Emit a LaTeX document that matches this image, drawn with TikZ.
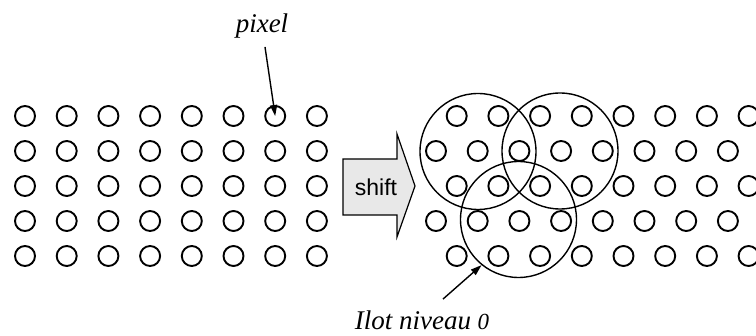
\documentclass[tikz,border=0pt]{standalone}
\usepackage{fontspec}
\setmainfont{Liberation Serif}
\setsansfont{Liberation Sans}
\usetikzlibrary{arrows.meta}
\definecolor{arrowgray}{RGB}{232,232,232}
\begin{document}
\begin{tikzpicture}[x=1pt,y=-1pt,
  px/.style={circle,draw,line width=1.9pt,minimum size=20pt,inner sep=0pt},
  ilot/.style={circle,draw,line width=1.4pt,minimum size=116pt,inner sep=0pt},
  lab/.style={font=\fontsize{27}{30}\selectfont\itshape,inner sep=2pt},
  arr/.style={-{Triangle[length=11pt,width=7pt]},line width=1.4pt},
  shiftbox/.style={draw,line width=1.2pt,fill=arrowgray,line join=miter}]
\clip (0,0) rectangle (756,336);
\fill[white] (0,0) rectangle (756,336);
% left grid
\foreach \r in {1,...,5}
  \foreach \c in {1,...,8}
    \node[px] (L\r-\c) at ({25+41.7*(\c-1)},{116+35*(\r-1)}) {};
% right grid
\foreach \r in {1,3,5}
  \foreach \c in {1,...,8}
    \node[px] (R\r-\c) at ({456.7+41.7*(\c-1)},{116+35*(\r-1)}) {};
\foreach \r in {2,4}
  \foreach \c in {1,...,8}
    \node[px] (R\r-\c) at ({436+41.7*(\c-1)},{116+35*(\r-1)}) {};
% big circles
\node[ilot] (B1) at (478,151.5) {};
\node[ilot] (B2) at (560,151) {};
\node[ilot] (B3) at (518.5,219.5) {};
% shift arrow
\draw[shiftbox] (343,159) -- (397,159) -- (397,134) -- (415,186) -- (397,237) -- (397,215) -- (343,215) -- cycle;
\node[font=\sffamily\fontsize{23}{26}\selectfont,anchor=base] (shift) at (376,196) {shift};
% labels
\node[lab,anchor=base] (pixel) at (262,33) {pixel};
\node[lab,anchor=base] (ilotlab) at (422,330) {Ilot niveau {\fontsize{23}{24}\selectfont 0}};
\draw[arr] ([xshift=3pt,yshift=-6pt]pixel.south) -- (L1-7.center);
\draw[arr] ([xshift=21pt,yshift=10pt]ilotlab.north) -- (B3.231);
\end{tikzpicture}
\end{document}
